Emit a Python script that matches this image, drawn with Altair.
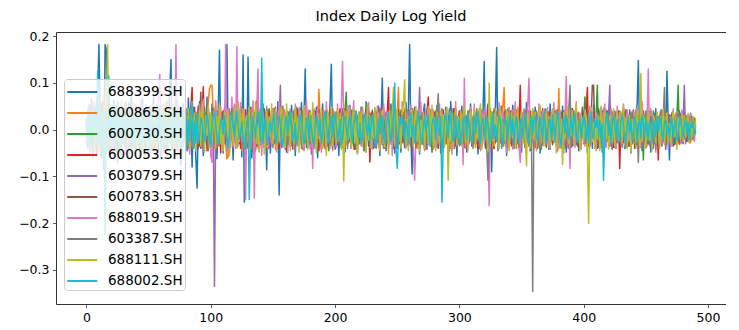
import altair as alt
import pandas as pd

names = ["688399.SH", "600865.SH", "600730.SH", "600053.SH", "603079.SH",
         "600783.SH", "688019.SH", "603387.SH", "688111.SH", "688002.SH"]
colors = ["#1f77b4", "#ff7f0e", "#2ca02c", "#d62728", "#9467bd",
          "#8c564b", "#e377c2", "#7f7f7f", "#bcbd22", "#17becf"]

# daily log yield, in thousandths
s688399 = [
12, -35, 48, -20, 65, -42, 30, -8, 55, 70,
182, 40, -60, 25, -85, 182, 170, -40, 35, -55,
20, -48, 62, -30, 15, -70, 45, 8, -52, 38,
-25, 58, -12, 40, -65, 22, 72, -38, 10, -45,
50, -18, 33, -60, 28, 66, -42, 5, -30, 47,
-55, 36, 18, -28, 74, -46, 12, 52, -35, 25,
-62, 40, 9, -22, 58, -48, 30, 85, 150, -30,
45, -58, 20, 62, -40, 15, -75, 38, 55, -20,
30, -45, 68, -15, 22, -80, 40, 10, -60, -125,
35, 60, -40, 18, -55, 48, -25, 70, -18, 32,
-45, 55, 12, -38, 28, -62, 40, 170, -30, 22,
-50, 35, 60, 182, -20, -48, 30, 15, -65, 42,
20, -35, 58, -12, 45, -58, 160, -155, 30, -40,
155, -25, 48, -60, 18, 36, -45, 62, 10, -32,
40, -20, 55, -38, 25, -86, 42, 15, -50, 30,
-28, 45, 8, -40, 60, -140, 35, -15, 50, -22,
28, -48, 38, 12, -35, 52, -18, 30, -55, 20,
45, -30, 10, 58, -42, 25, 130, -38, 18, -25,
40, -52, 22, 35, -15, 48, -60, 30, 12, -40,
55, -20, 32, -45, 20, -30, 62, 140, -35, 15,
-42, 38, 25, -55, 10, 45, -28, 30, -48, 20,
35, -18, 52, -38, 15, -25, 40, 22, -50, 30,
-30, 48, -12, 28, -45, 60, 18, -35, 25, -22,
42, -40, 15, 35, -28, 50, -55, 20, 110, -30,
25, -45, 38, 10, -32, 55, -20, 30, -50, 18,
40, -25, 22, -48, 35, 12, -38, 58, -15, 45,
182, -20, -95, 30, 48, -35, 15, 40, -52, 22,
-28, 36, 55, -42, 18, -30, 45, 8, -48, 32,
20, -38, 52, -15, 28, -50, 40, 12, -32, 48,
-25, 30, -45, 60, 15, -35, 22, 42, -55, 18,
35, -28, 50, -40, 25, 10, -48, 38, -20, 55,
-35, 22, 45, -30, 15, -52, 40, 28, -18, 35,
146, -40, 20, 55, -30, 12, -90, 38, 25, 48,
176, -45, 30, -22, 50, -35, 15, 42, -55, 20,
38, -25, 18, 52, -40, 28, -15, 45, -32, 10,
-48, 35, 22, -38, 58, -20, 30, -45, 15, 40,
-30, 48, 12, -35, 25, -50, 38, 20, -28, 45,
-18, 30, -42, 55, 10, -32, 40, -22, 28, -45,
35, 15, -38, 50, -25, 42, -48, 20, 32, -15,
45, -35, 22, -28, 38, 12, -45, 30, -20, 48,
-30, 25, 40, -50, 18, -22, 35, -40, 52, 10,
-38, 28, 45, -25, 15, -48, 32, 20, -35, 40,
-20, 50, 12, -42, 30, -28, 38, -15, 22, -45,
35, -32, 48, 10, -38, 25, -20, 42, -50, 30,
18, -40, 35, 55, 148, -30, 22, -45, 28, 15,
-35, 40, -22, 30, -48, 25, 12, -30, 45, -18,
28, -38, 20, 42, -25, 35, -42, 125, 15, -65,
30, -20, 38, -32, 15, 25, -28, 40, -15, 22,
-30, 35, 10, -25, 28, -18, 32, -22, 15, 20,
5]

s600865 = [
5, -12, 18, 30, -25, 8, -40, 22, 10, -15,
35, -20, -8, 45, 12, -30, 20, -45, 15, 28,
-10, 40, -32, 5, 22, -18, -50, 30, 12, -5,
25, -28, 48, -15, 8, 32, -38, -12, 20, 42,
-22, 15, -35, 28, 50, -10, 5, -42, 18, 30,
-18, 38, 12, -25, -8, 45, -30, 20, 8, -40,
28, -15, 55, -20, 10, -35, 22, 40, -12, -28,
18, 35, -45, 12, 25, -20, 8, -30, 48, 15,
-25, 30, -10, 42, -38, 20, 5, -15, 35, -22,
50, -30, 12, 28, -18, 40, -8, 22, 60, 88,
95, 95, 30, -40, 15, -25, 45, -12, 20, -35,
28, 10, -30, -62, -58, 18, 35, -20, 8, 25,
-15, 40, -28, 12, 30, -45, 20, -8, 38, -18,
22, -35, 15, 48, -12, 8, -28, 35, -40, 18,
30, -20, 42, -15, 5, -38, 25, 12, -25, 40,
-10, 28, -42, 18, 35, -22, 8, -30, 45, 15,
-28, 20, 38, -12, -35, 25, 10, -18, 42, -30,
15, -25, 32, 8, -40, 22, 50, -15, 28, -8,
35, -30, 12, 45, -20, 18, -35, 86, 20, -42,
25, -15, 38, -28, 10, 30, -22, 15, -45, 40,
-12, 22, 35, -30, 8, -18, 45, 12, -38, 28,
18, -25, 40, -10, 30, -42, 15, 25, -20, 35,
-30, 12, 48, -22, 20, -35, 8, 38, -15, 25,
40, -18, 22, -40, 15, 32, -25, 10, 45, -30,
20, -12, 35, -28, 18, 42, -20, 8, 55, -38,
28, 90, -30, 15, -22, 38, -10, 25, -35, 18,
42, -20, 12, -32, 28, 15, -40, 35, -8, 22,
-25, 38, 10, -18, 45, -30, 20, -12, 32, -42,
15, 28, -35, 22, -10, 40, -25, 18, 8, -30,
35, -15, 25, -40, 12, 30, -22, 45, -18, 10,
-28, 22, 38, -12, 28, -35, 15, -20, 42, 8,
-30, 25, 18, -38, 32, -15, 45, -25, 12, 20,
-18, 40, -30, 15, 35, -22, 8, -42, 28, 12,
38, -25, 20, -10, 30, 48, 90, -35, 15, -20,
25, -30, 12, 42, -18, 28, -40, 18, 35, -12,
-22, 30, 15, -35, 22, -10, 40, -28, 8, 32,
-15, 25, -38, 18, 45, -20, 12, -32, 28, 10,
35, -18, 22, -40, 15, 30, -25, 8, 42, -15,
88, -30, 20, -12, 35, -22, 18, -38, 25, 10,
-20, 40, -15, 28, -32, 12, 38, -25, 20, -10,
30, -35, 15, 42, -18, 25, -28, 10, 35, -40,
18, -12, 32, -25, 40, -20, 15, 28, -35, 8,
25, -30, 45, -15, 20, -38, 12, 30, -22, 18,
-28, 35, 10, -20, 42, -32, 22, -12, 38, -25,
15, 28, -40, 20, -15, 35, -22, 12, 30, -18,
22, -35, 18, 40, -25, 10, -30, 28, -12, 35,
-20, 15, 32, -28, 22, -15, 38, -30, 12, 25,
-18, 30, -25, 15, 35, -20, 10, -32, 28, -12,
20, -15, 25, -22, 12, 18, -28, 15, -10, 22,
12]

s600730 = [
-8, 22, -30, 15, 40, -18, 5, -35, 28, 12,
-20, 45, 18, -40, 10, 30, -25, 8, -50, 35,
15, -12, 38, -28, 20, -5, -42, 25, 48, -18,
-30, 12, 25, -15, 35, -40, 8, 22, -20, 42,
10, -35, 18, 30, -22, -8, 45, -28, 15, -12,
38, -20, -45, 25, 12, -30, 20, 40, -15, 8,
-25, 32, 15, -38, 48, -10, -22, 30, 18, -42,
22, -15, 35, 8, -30, 40, -18, 12, -35, 25,
45, -28, 10, -20, 32, 18, -40, 25, -12, 38,
-22, 15, 42, -35, 8, 28, -18, 50, -30, 12,
20, -25, 35, -10, 30, -42, 15, -20, 38, 5,
-32, 25, 12, -45, 20, 35, -15, 28, -38, 10,
40, -18, 22, -30, 15, 48, -25, 8, -12, 32,
-20, 38, -35, 18, 25, -10, 42, -28, 12, -40,
30, 10, -22, 35, -15, 20, -38, 45, -8, 25,
-30, 18, 40, -20, 12, -35, 28, -12, 35, 15,
-42, 22, 10, 38, -25, 15, -18, 30, -35, 48,
12, -28, 25, -15, 40, -32, 18, 8, -22, 35,
-10, 30, -40, 22, 15, -25, 45, -18, 28, -8,
38, -30, 20, -12, 32, -45, 10, 25, -20, 15,
28, -15, 35, -28, 10, 22, -38, 12, 40, 80,
-30, 18, -20, 42, 8, -35, 25, -12, 30, -22,
15, 38, -25, 10, -40, 28, 20, -15, 35, -30,
22, -10, 45, -32, 18, 12, -28, 38, -18, 25,
-35, 30, 8, -22, 40, -15, 25, -38, 12, 20,
35, -28, 15, 42, -20, 10, -30, 28, -12, 45,
-18, 22, -35, 15, 30, -25, 40, -10, 18, -32,
28, 12, -40, 25, -15, 35, -22, 8, 42, -28,
-12, 32, 20, -38, 15, -20, 45, -30, 25, 10,
38, -25, 12, 30, -42, 18, -15, 35, -22, 8,
-30, 25, 40, -18, 10, -35, 22, 15, -28, 42,
12, -20, 35, -32, 28, 8, -40, 20, -15, 38,
25, -30, 15, -10, 42, -25, 18, 30, -38, 12,
-22, 40, -15, 28, 10, -35, 32, -20, 18, 45,
-28, 15, 22, -40, 35, -12, 25, -30, 8, 38,
20, -25, 42, -15, 12, 30, -35, 18, -22, 28,
-10, 35, -28, 20, 45, -18, 8, -32, 25, 15,
-38, 22, 30, -20, 12, -28, 40, 10, -35, 25,
18, -15, 38, -25, 28, -40, 15, 32, -12, 20,
-30, 42, 10, -22, 35, -18, 25, -35, 12, 30,
22, 70, -25, 15, 40, -30, 8, -20, 35, -12,
28, 95, -38, 20, -15, 32, -28, 12, 42, -22,
15, -35, 25, 38, -18, 10, -30, 22, -12, 40,
-25, 18, 32, -40, 12, 28, -20, 35, -15, 8,
30, -22, 15, 42, -28, 20, -12, 35, -65, 18,
-20, 38, -30, 12, 25, -18, 40, -25, 10, 30,
-35, 22, 15, -28, 38, -12, 20, -30, 28, 12,
-15, 35, -22, 18, -30, 25, 95, -20, 15, 30,
-25, 12, 28, -18, 20, -10, 35, -15, 22, 8,
-5]

s600053 = [
25, -40, 15, -18, 50, -30, 8, 35, -55, 20,
-15, 42, -28, 60, -35, 12, -48, 30, 18, -25,
45, -20, -38, 22, 10, -50, 35, -12, 28, -30,
40, 15, -45, 25, -10, 55, -32, 18, -22, 38,
-28, 12, 48, -40, 20, -15, 32, -55, 25, 10,
-35, 50, -18, 28, -42, 15, 38, -25, 8, 45,
-20, 30, -48, 12, 35, -28, 22, -10, 52, -38,
18, -30, 42, -15, 25, 8, -45, 30, -22, 40,
-12, 35, -28, 20, 48, 90, -40, 15, 30, -25,
50, -35, 22, 40, 92, -20, 28, -45, 12, 35,
-30, 18, 45, -22, 10, -38, 30, 15, -50, 28,
40, -15, 22, -35, 12, 30, -25, 48, -18, 50,
-28, 35, -12, 20, -40, 25, 15, -30, 42, -20,
10, 38, -22, 28, -45, 18, 32, -15, 25, -35,
45, -20, 12, -38, 30, 22, -28, 40, -10, 18,
-32, 25, 48, -18, 15, -40, 28, 10, -25, 35,
20, -42, 30, 12, -22, 38, -15, 25, -35, 8,
42, -28, 18, -12, 35, -30, 22, 45, -20, 10,
-38, 28, 15, -25, 40, -18, 30, -45, 12, 22,
35, -15, -40, 28, 18, -30, 42, -22, 10, 25,
-20, 38, -32, 15, 45, -12, 22, -35, 28, 8,
30, -25, 40, -18, 12, 35, -42, 20, -28, 15,
-15, 32, 22, -30, 10, 42, -20, 28, -69, 18,
38, -22, 15, -35, 25, 10, -28, 45, -12, 30,
-40, 20, 35, 90, -25, 12, -30, 28, 18, -38,
22, 42, -15, 30, -28, 10, 38, -20, 25, -32,
15, -25, 45, -12, 28, -35, 20, 8, -40, 32,
-18, 35, 12, -28, 40, 70, -22, 15, -30, 25,
38, -15, 22, -40, 10, 30, -25, 42, -18, 12,
-30, 28, -12, 35, -22, 18, 45, -35, 8, 25,
40, -28, 15, -20, 32, 12, -38, 25, -15, 45,
-22, 18, 38, -30, 10, -42, 28, 20, -25, 35,
12, -35, 25, 42, -18, 30, -12, 22, -40, 15,
28, -20, 45, -28, 15, -32, 38, 10, -22, 30,
-15, 40, -35, 20, 28, -12, 42, -25, 18, 95,
-30, 22, 12, -38, 35, -18, 25, 40, -28, 10,
32, -22, 18, -40, 28, 15, -30, 45, -12, 20,
-35, 25, 38, -15, 10, -28, 42, -20, 30, 12,
-25, 35, -18, 22, 40, -32, 15, -10, 28, -38,
20, 45, -22, 12, -30, 35, 18, -40, 25, -15,
30, -28, 42, 90, -35, 15, 22, -20, 38, -12,
25, -40, 18, 32, -25, 10, 45, -30, 12, 28,
-18, 35, -12, 22, -38, 28, 15, -22, 40, -83,
30, 12, -28, 38, -15, 20, -35, 25, 8, -30,
42, -20, 15, -32, 28, 10, -25, 35, -18, 22,
-38, 30, 12, -20, 40, -28, 18, 25, -15, 35,
-65, 22, 38, -12, 15, -30, 28, -18, 10, 32,
-22, 18, -35, 25, 12, -15, 30, -28, 20, 8,
25, -18, 30, -12, 22, -25, 15, 28, -20, 18,
20]

s603079 = [
-15, 30, 10, -35, 22, 45, -28, 12, -40, 18,
35, -22, 50, -30, 15, -45, 28, 8, -18, 40,
-38, 20, 12, -25, 42, -10, 30, -48, 22, 15,
-28, 45, -15, 25, -35, 18, 40, -20, 10, -42,
32, -12, 22, 48, -30, 15, -25, 38, -45, 20,
10, -35, 42, -18, 28, -40, 15, 30, -22, 50,
-30, 18, -12, 35, -48, 25, 12, -28, 40, -15,
22, 45, -35, 10, 30, -20, 38, -42, 15, 28,
-18, 25, -40, 32, 12, -28, 48, -15, 20, -35,
40, -22, 15, 30, -45, 18, 28, -12, 35, -25,
12, -30, 20, -335, 25, 40, -18, 30, -28, 15,
38, -20, 12, -35, 28, 45, -15, 22, -40, 30,
-12, 35, -28, 18, 42, -22, 10, 32, -38, 20,
25, -15, 40, -30, 12, 28, -42, 18, 35, -20,
-32, 22, 15, -25, 38, -12, 30, -40, 20, 10,
45, -28, 18, 35, -15, 22, 95, -38, 12, 28,
-20, 40, -30, 15, 25, -35, 18, 42, -12, 30,
-25, 12, 38, -20, 28, -42, 15, 22, -30, 35,
18, -38, 25, 10, -22, 40, -15, 30, -35, 12,
42, -18, 28, -30, 15, 35, -25, 20, -40, 22,
10, -32, 38, -15, 25, -28, 45, -20, 12, 30,
-35, 18, 22, -40, 30, 12, -18, 38, -25, 15,
28, -12, 42, -30, 20, -22, 35, 10, -38, 25,
-15, 30, -25, 40, 12, -35, 22, 18, -28, 45,
-20, 38, 15, -30, 28, -12, 42, -25, 10, 32,
-40, 22, 18, -15, 35, -28, 12, 30, -22, 40,
15, -35, 28, 20, -18, 38, -30, 12, 90, -25,
35, -15, 22, -40, 30, 10, -28, 42, -20, 18,
-12, 28, -35, 15, 40, -22, 25, -30, 12, 38,
20, -25, 45, -18, 10, 32, -38, 22, -15, 28,
-30, 18, 12, -42, 35, -20, 28, 15, -25, 40,
22, -12, 38, -30, 18, 25, -35, 10, 42, -22,
-18, 32, -28, 20, 12, -40, 30, 22, -15, 35,
28, -38, 15, 42, -20, 10, -30, 25, 18, -12,
40, -25, 20, -35, 30, 12, -18, 38, -28, 15,
-22, 35, 10, -30, 25, 42, -15, 20, -38, 28,
12, -20, 40, -28, 15, 30, -35, 22, -10, 38,
-30, 25, 18, -42, 35, -15, 28, 10, -25, 42,
20, -35, 30, -12, 22, 38, -28, 15, -40, 25,
-15, 40, -22, 28, 12, -32, 35, -18, 25, 10,
38, -28, 15, -20, 42, -35, 22, 30, -12, 18,
-25, 35, 28, -40, 12, 20, -30, 38, -15, 25,
30, 95, -35, 18, -22, 40, 10, -28, 32, -12,
22, -38, 15, 30, -20, 42, -25, 12, 35, -30,
-18, 28, 40, -15, 22, -35, 30, 12, -28, 20,
38, -22, 15, -30, 25, 10, -40, 28, -12, 35,
-28, 20, 42, -18, 30, -25, 12, 38, -20, 15,
25, -35, 18, 30, -15, 22, -28, 12, 35, -20,
18, 95, -30, 22, -12, 28, -20, 15, 25, -18,
10]

s600783 = [
18, -25, 40, -10, -32, 22, 50, -18, 8, -45,
30, 12, -38, 25, -15, 45, -28, 15, 35, -20,
-42, 28, 10, -22, 38, 15, -35, 20, -12, 48,
22, -30, 35, -18, 12, -45, 28, 40, -25, 10,
-15, 38, -28, 20, 45, -22, 12, -38, 30, 18,
-35, 25, 15, -20, 40, -30, 22, 10, -45, 32,
12, -18, 38, 25, -40, 15, -28, 45, -12, 20,
-25, 35, -15, 28, 10, -38, 22, 40, -30, 15,
42, -22, 18, -35, 30, 12, -28, 48, -18, 25,
-40, 20, 80, -30, 15, 35, -22, 10, -38, 28,
15, -25, 42, -12, 30, -35, 20, 8, -28, 38,
-18, 45, -30, 22, 12, -40, 28, 15, -22, 35,
25, -15, 38, -28, 18, 40, -32, 10, 30, -20,
-38, 22, 12, -25, 42, -15, 30, -35, 20, 8,
35, -28, 15, 45, -20, 25, -40, 18, -12, 32,
-22, 40, -30, 12, 28, -18, 35, -25, 15, 42,
10, -35, 22, -15, 38, 28, -42, 20, -28, 15,
30, -20, 45, -32, 12, -25, 35, 18, -38, 22,
-12, 28, 15, -40, 32, -18, 25, 42, -30, 10,
38, -25, 20, 12, -35, 28, -15, 40, -22, 18,
-30, 35, -12, 25, 15, -38, 30, -20, 45, -10,
22, -28, 38, -15, 10, 32, -42, 18, 25, -30,
15, 40, -22, 28, -35, 12, 20, -18, 35, -25,
-10, 30, 18, -38, 25, 42, -20, 15, -32, 28,
35, -15, 22, -28, 40, -12, 30, -40, 18, 12,
-25, 38, -30, 20, 15, -22, 45, -18, 28, -35,
20, 12, -40, 35, -15, 28, -25, 10, 42, -20,
30, -32, 18, -12, 38, -28, 22, 15, -35, 40,
-18, 25, 12, -30, 35, 20, -42, 28, -15, 22,
38, -20, 30, -25, 10, 45, -35, 18, 25, -12,
-28, 40, -15, 22, -38, 30, 12, -22, 35, 15,
-30, 18, 42, -20, 28, -12, 35, -40, 20, 10,
32, -25, 15, 38, -18, 22, -30, 12, 45, -28,
-15, 30, -35, 20, 40, -22, 18, -10, 28, -38,
25, -12, 35, -30, 15, 42, -20, 28, -25, 10,
-32, 22, 18, -15, 38, -28, 12, 30, -20, 40,
15, -38, 25, 12, -22, 35, -30, 20, -12, 28,
42, -20, 15, -35, 30, 18, -25, 38, -15, 10,
-28, 35, 22, -40, 12, 28, -18, 32, -30, 20,
15, -22, 40, -12, 25, -35, 18, 30, -28, 42,
-15, 20, 35, -25, 12, -30, 28, 95, 95, -20,
30, -38, 15, 22, -28, 40, -12, 18, -32, 25,
12, -20, 35, -30, 22, 15, -40, 28, -15, 38,
-25, 30, -18, 12, 42, -22, 20, -35, 28, 10,
35, -28, 18, -15, 30, 22, -38, 12, 40, -20,
-12, 25, -30, 38, 15, -22, 28, -18, 10, 32,
-28, 18, 22, -35, 30, -12, 40, -25, 15, 20,
-20, 35, -28, 12, 25, -15, 30, -22, 18, 38,
-15, 22, 10, -25, 30, -18, 15, 28, -12, 25,
22]

s688019 = [
-30, 45, 20, -55, 38, -15, 60, -42, 25, 10,
-48, 70, -25, 35, 12, -60, 40, 55, -35, 18,
42, -30, -65, 28, 50, -20, 15, -45, 62, -12,
30, -52, 22, 45, -38, 10, -25, 58, -40, 35,
-18, 48, -30, 20, 65, -45, 12, -28, 40, -55,
25, 38, -20, 55, -35, 15, -48, 30, 72, 118,
-40, 20, 45, -30, 12, -58, 35, -22, 60, -15,
28, -45, 182, -60, 40, 18, -35, 52, -28, 15,
45, -20, 30, -52, 22, 60, -38, 10, -45, 35,
-25, 55, 18, -40, 65, -30, 25, -15, 48, 30,
-55, -70, 40, -20, 62, 15, -35, 28, 50, -45,
20, -30, 182, -50, 45, 12, -38, 70, -25, 55,
-40, 178, -35, 20, 58, -28, 12, 45, -150, 30,
-20, 48, -38, 15, 62, -146, 25, 40, 130, -45,
22, -55, 38, 12, -30, 50, -42, 28, 15, -35,
45, -20, 30, -48, 18, 60, -25, 12, -38, 42,
-15, 35, -50, 28, 45, -22, 10, -40, 55, 20,
-35, 48, 15, -28, 38, -45, 22, 62, -18, 30,
-42, 25, -83, 40, 12, -30, 50, -20, 35, -48,
18, 42, -35, 60, -22, 15, -40, 28, 48, -15,
30, -38, 55, -25, 12, 40, 146, 22, -18, 35,
-28, 50, 45, -40, 20, 62, -30, 15, -52, 38,
12, -35, 45, -20, 28, -48, 35, 58, -25, 18,
-42, 30, 22, -15, 50, -38, 12, 40, -30, 55,
25, -22, 38, -45, 15, 30, -55, 20, 48, -28,
40, -18, 28, -35, 60, -12, 22, -40, 35, 15,
-30, 52, 20, -38, -108, -25, 12, 45, 30, 58,
-20, 38, -45, 15, 28, 50, -35, 22, -15, 42,
-38, 25, 12, -30, 55, -20, 40, -48, 18, 30,
45, -28, 15, 38, -52, 22, -12, 60, -35, 20,
-25, 42, 30, -75, 110, -40, 25, 12, -30, 48,
18, -35, 55, -22, 38, -15, 28, -45, 12, 40,
-30, 50, 20, -38, -163, 45, 15, -25, 35, -12,
28, -40, 58, 12, -30, 42, -20, 35, -48, 22,
48, -15, 30, -42, 25, 60, -28, 12, -35, -70,
38, -20, 45, -30, 18, 52, 110, -38, 25, -15,
-42, 30, 12, -25, 55, -35, 20, 40, -18, 28,
-28, 48, -38, 15, 35, -22, 58, -12, 30, -45,
20, 42, -30, 18, -50, 28, 114, -25, 38, -83,
45, -15, 25, -38, 60, -22, 12, 35, -42, 20,
-18, 40, 28, -35, 15, 50, -25, 38, -12, 22,
-45, 30, 12, -28, 48, -20, 35, 55, -38, 15,
25, -32, 42, -18, 30, 12, -40, 50, -22, 38,
-28, 20, 55, -35, 15, 42, -25, 10, -45, 30,
38, -18, 25, 48, -30, 12, -38, 60, -15, 28,
-40, 22, 130, -35, 45, -20, 18, 30, -48, 35,
12, -25, 40, -30, 22, 50, -18, 35, -42, 15,
28, -35, 45, -15, 20, -28, 38, 12, -30, 42,
-22, 30, -18, 25, 15, -28, 35, -12, 20, -25,
15]

s603387 = [
10, -28, 35, -15, 22, -40, 18, 30, -22, 45,
-35, 12, 28, -20, 40, -12, -45, 25, 15, -30,
38, -18, 22, 42, -35, 10, -25, 30, -48, 20,
15, -32, 40, -10, 28, -38, 12, 45, -20, 25,
-40, 30, 18, -28, 35, 12, -45, 22, -15, 38,
20, -25, 42, -35, 10, 28, -18, 40, -30, 15,
-12, 35, -40, 22, 18, -30, 45, -15, 28, -38,
30, 12, -25, 38, -42, 20, 15, -30, 40, -18,
25, -35, 12, 45, -22, 30, -40, 18, 10, -28,
42, -15, 28, -38, 20, 35, -25, 12, -45, 30,
-20, 38, 15, -30, 25, -12, 40, -35, 22, 18,
-42, 28, 12, -25, 35, -18, 30, 45, -32, 15,
22, -38, 40, -15, 10, 30, -28, 18, -40, 35,
-25, 15, 28, -42, 38, -12, 22, 32, -30, 12,
40, -20, 18, -35, 25, 45, -28, 10, -15, 30,
-38, 22, 35, -20, 12, -30, 42, -25, 18, 28,
-15, 40, -32, 15, 28, -22, 10, 38, -45, 20,
30, -18, 22, -40, 35, 12, -28, 25, -12, 42,
-30, 15, 38, -25, 20, -42, 30, 12, -20, 35,
22, -35, 10, 40, -18, 28, -30, 15, 45, -22,
12, -28, 35, -15, 22, -38, 40, 18, -25, 30,
-40, 20, 15, -30, 42, -12, 28, -35, 22, 10,
38, -22, 30, -45, 12, 25, -18, 40, -28, 15,
-20, 32, -38, 22, 15, -28, 45, -12, 30, -40,
18, 25, -30, 12, 40, -22, 35, -15, 28, -35,
42, -18, 22, -40, 10, 30, -25, 38, -12, 20,
-28, 35, -15, 25, 40, -38, 12, 30, -22, 18,
35, -30, 15, 28, -42, 20, -12, 38, -25, 10,
-18, 40, 22, 77, -30, 15, -38, 28, 12, -25,
30, -12, 42, -28, 18, 35, -40, 22, -15, 28,
-35, 20, 12, -30, 38, -18, 25, 40, -28, 15,
22, -40, 30, -15, 45, -25, 10, 32, -38, 20,
-12, 28, -35, -108, 15, 40, -20, 25, -30, 12,
38, -25, 18, 30, -40, 22, -15, 35, -28, 42,
-20, 12, 40, -32, 25, -18, 30, 15, -38, 22,
35, -28, 10, 42, -22, 18, -35, 28, -12, -346,
40, -15, 25, -30, 12, 35, -42, 20, -18, 30,
-25, 38, 15, -35, 22, 10, -28, 40, -20, 12,
32, -40, 25, 18, -15, 30, -32, 12, 42, 95,
-38, 20, -12, 35, 28, -22, 15, -40, 30, 18,
-15, 42, -28, 22, 12, -35, 38, -20, 25, -12,
30, -22, 18, 40, -30, 15, -38, 28, 12, -25,
35, -18, 22, -42, 30, 10, -28, 38, -15, 20,
-32, 25, 40, -20, 15, -35, 28, 12, -22, 38,
18, -30, 22, 12, -70, 35, -15, 28, -38, 20,
40, -25, 15, -32, 28, 12, -20, 35, -42, 22,
10, -28, 38, -15, 25, 90, -35, 18, -22, 30,
-18, 28, -30, 22, 12, -25, 35, -15, 20, -28,
25, -20, 15, 30, -22, 18, -12, 25, -18, 12,
-8]

s688111 = [
20, -38, 55, -25, 42, 15, -50, 30, -18, 62,
-45, 25, 38, -30, 70, -55, 40, 182, -20, 48,
-35, 52, 12, -48, 30, -22, 58, -40, 25, 45,
-28, 15, 60, -35, 22, -52, 40, 10, -30, 55,
38, -45, 20, 48, -18, 30, -60, 25, 42, -22,
-50, 35, 12, -38, 55, -25, 45, -15, 28, -42,
30, -20, 50, -32, 15, 62, -45, 22, -28, 40,
-38, 58, -15, 28, -48, 35, 20, -55, 42, 12,
25, -30, 45, -40, 18, 52, -22, 35, -45, 28,
-18, 40, -35, 60, 22, -48, 30, -12, 50, -38,
35, -25, 12, 48, -40, 28, -15, 55, -30, 20,
-45, 38, 22, -20, 42, -55, 30, 15, -35, 48,
18, -40, 58, -25, 35, -12, 45, -38, 22, 30,
-28, 50, -45, 15, 38, -22, 60, -30, 12, -48,
42, -18, 28, -52, 20, 40, -35, 25, -15, 55,
-30, 22, 45, -40, 15, -25, 38, 50, -20, 30,
-38, 55, -12, 28, -45, 35, 18, -30, 48, -22,
25, -48, 40, 12, -35, 52, -20, 30, -42, 15,
38, -25, 58, -30, 22, -50, 35, 10, -28, 45,
-40, 18, 30, -55, 42, 15, -22, 48, -35, 25,
12, -30, 45, -18, 35, -42, 28, -110, 40, -25,
52, -20, 15, -38, 30, 45, -28, 22, -50, 38,
-15, 40, -35, 25, 12, -48, 55, -22, 30, -40,
28, -18, 48, -30, 20, 35, -45, 15, 42, -25,
-38, 22, 30, -52, 40, -15, 28, 90, -35, 18,
45, -28, 12, -40, 35, 55, 107, -30, 22, -45,
30, -15, 42, -35, 18, 50, -25, 38, -48, 20,
-22, 35, -40, 28, 12, -30, 45, -18, 52, -35,
25, -45, 38, 15, -28, 40, -20, 32, -38, 22,
48, -108, 20, -25, 35, -40, 15, 42, -30, 28,
-18, 38, -35, 22, 50, -28, 12, -45, 30, 40,
-25, 15, 45, -38, 28, -20, 35, 55, -42, 18,
30, -22, 12, -48, 100, -30, 38, 20, -35, 45,
-15, 28, -40, 50, 22, -32, 15, -25, 42, 35,
-45, 20, 38, -18, 30, -38, 25, 48, -28, 12,
40, -30, 22, -15, -77, 35, 18, -40, 28, 45,
-22, 38, -45, 15, 30, 52, -28, 20, -35, 25,
42, -18, 28, -38, 12, 45, -25, 35, -50, 18,
30, -40, 22, -75, 38, -20, 15, 48, -30, 25,
-12, 40, -35, 28, 55, -22, 18, -45, 32, 15,
-28, 42, 22, -38, -200, 30, 48, -25, 15, -40,
35, -20, 28, -45, 50, 12, -32, 38, -18, 25,
-42, 30, 15, -28, 45, -35, 20, 40, -22, 12,
38, -30, 52, -15, 25, -40, 18, 30, -48, 22,
-20, 35, -28, 42, 15, -38, 120, -25, 30, 18,
-35, 25, 40, -22, 12, -45, 30, 20, -28, 38,
15, -40, 28, -18, 45, -30, 22, 35, -25, 12,
-32, 20, 38, -15, 28, -42, 25, 12, -20, 35,
-25, 30, -15, 22, 35, -28, 18, -20, 28, -12,
25]

s688002 = [
15, -40, 52, -28, 35, -60, 25, 48, -35, 125,
-30, 60, 20, -55, 40, -226, 45, -20, 115, -48,
38, -25, 55, -42, 18, 62, -38, 25, -50, 30,
-20, 48, -35, 12, 58, -45, 28, -18, 40, -55,
25, 42, -30, 18, -48, 35, 12, -40, 55, -22,
30, -50, 20, 45, -28, 15, -38, 52, -15, 35,
-45, 28, 40, -22, 12, -55, 38, 22, -30, 48,
-18, 35, -42, 25, 50, -30, 15, -48, 40, 10,
45, -35, 22, -25, 38, 58, -40, 18, -28, 32,
-30, -12, 25, 18, -8, -25, 5, 32, 14, -20,
-35, 10, 28, 40, 12, -18, -30, -5, 22, 15,
-10, 30, 8, -22, -38, -12, 20, 35, 6, -15,
25, 40, 10, -20, -5, 18, -28, -40, -12, 15,
30, -150, -20, 12, 28, 5, -18, 22, 38, 10,
-25, 153, -30, 8, 25, -15, -32, 10, 18, -8,
20, 35, -12, -28, 5, 30, 15, -20, -35, -6,
18, 28, -10, 22, 40, 8, -25, -12, 15, -30,
-18, 10, 32, 20, -8, -30, -15, 25, 12, -22,
28, 5, -20, -35, 10, 30, 18, -12, 22, -28,
-10, 25, 38, 12, -18, -28, 6, 30, -15, 20,
35, 10, -25, -8, 22, -32, -18, 15, 28, 5,
-22, 18, 30, -12, -28, 12, 25, 40, -5, -20,
15, -30, -18, 22, 35, 8, -12, 28, -25, 10,
32, 12, -20, -35, 5, 25, -10, 18, 30, -15,
-28, 8, 22, 35, -12, -25, 15, 30, 100, -38,
-83, -20, 25, 12, 30, -8, -22, 18, 5, -30,
20, 35, -15, 10, -28, -12, 22, 38, 8, -18,
-30, 12, 28, -5, 18, 32, -20, -35, 10, 25,
15, -22, 30, 8, -12, 28, -155, -30, 20, 35,
10, -18, 25, 40, -8, -25, 12, 30, -20, 5,
22, -32, -10, 18, 28, 12, -22, 35, 8, -15,
-28, 15, 30, -8, 20, 38, -18, -30, 12, 25,
5, -20, 28, 15, -30, -12, 22, 35, -18, 10,
-25, 12, 30, 20, -15, -35, 8, 25, 12, -22,
18, 32, -12, 22, -28, 10, 28, -5, -30, 15,
25, -18, 12, 35, 8, -22, -30, 15, 28, -10,
20, 30, -15, -25, 12, 28, 5, -20, 35, 10,
-30, -12, 22, 15, -18, 32, 8, -25, 20, 38,
12, -22, -35, 10, 25, -8, 30, 18, -20, 5,
28, -15, 20, 35, -10, -28, 12, 22, -18, 8,
30, 15, -22, 10, -30, 25, 38, -12, -20, 18,
5, 28, -15, 20, -25, 12, -108, -10, 25, 35,
-12, 18, -28, 8, 30, 15, -20, 22, -8, -25,
20, 32, 10, -18, -30, 12, 25, -5, 18, -22,
-10, 28, 15, -25, 8, 22, -18, 30, 12, -15,
25, -8, -22, 18, 10, -28, 20, 12, -15, 28,
-5, 18, 25, -12, -20, 15, 22, -8, 10, -18,
12, 25, -15, 8, 20, -22, -10, 18, 25, 5,
-15, 10, 22, -8, 15, -20, 12, 5, 18, -10,
0]

series = [s688399, s600865, s600730, s600053, s603079,
          s600783, s688019, s603387, s688111, s688002]

x_ticks = [0, 100, 200, 300, 400, 500]
y_ticks = [-0.3, -0.2, -0.1, 0.0, 0.1, 0.2]

rows = []
for name, vals in zip(names, series):
    for i, v in enumerate(vals):
        rows.append({"day": i, "yield": v / 1000.0, "stock": name})
df = pd.DataFrame(rows)

FONT = "DejaVu Sans"

x_enc = alt.X("day:Q",
              scale=alt.Scale(domain=[-24.5, 514.5], nice=False, zero=False),
              axis=alt.Axis(values=x_ticks, format="d", title=None))
y_enc = alt.Y("yield:Q",
              scale=alt.Scale(domain=[-0.373, 0.209], nice=False, zero=False),
              axis=alt.Axis(values=y_ticks, format=".1f", title=None,
                            minExtent=48, maxExtent=48))
color_enc = alt.Color(
    "stock:N",
    scale=alt.Scale(domain=names, range=colors),
    legend=alt.Legend(
        title=None, orient="none", legendX=8, legendY=47,
        symbolType="M-1,0L2.08,0", symbolSize=380, symbolStrokeWidth=2,
        labelFontSize=13.5, labelFont=FONT, labelColor="black",
        labelOffset=20, labelLimit=300, rowPadding=3, padding=2,
        fillColor="rgba(255,255,255,0.8)", strokeColor="#cccccc",
        cornerRadius=3,
    ),
)

layers = []
for n in names:
    layers.append(
        alt.Chart()
        .transform_filter(alt.datum.stock == n)
        .mark_line(strokeWidth=1.5, strokeJoin="round")
        .encode(x=x_enc, y=y_enc, color=color_enc)
    )

chart = (
    alt.layer(*layers, data=df)
    .properties(
        width=670, height=272,
        title=alt.TitleParams("Index Daily Log Yield", fontSize=14.5, font=FONT,
                              fontWeight="normal", color="black", offset=6,
                              anchor="middle"),
        padding={"left": 0, "top": 0, "right": 0, "bottom": 0},
    )
    .configure_view(stroke="#333333", strokeWidth=1)
    .configure_axis(grid=False, domain=False, tickSize=3.5, tickColor="#333333",
                    labelFont=FONT, labelFontSize=12.5, labelColor="black",
                    labelPadding=3.5, tickWidth=0.8)
)

chart.save("out.html", embed_options={"renderer": "svg", "actions": False})
